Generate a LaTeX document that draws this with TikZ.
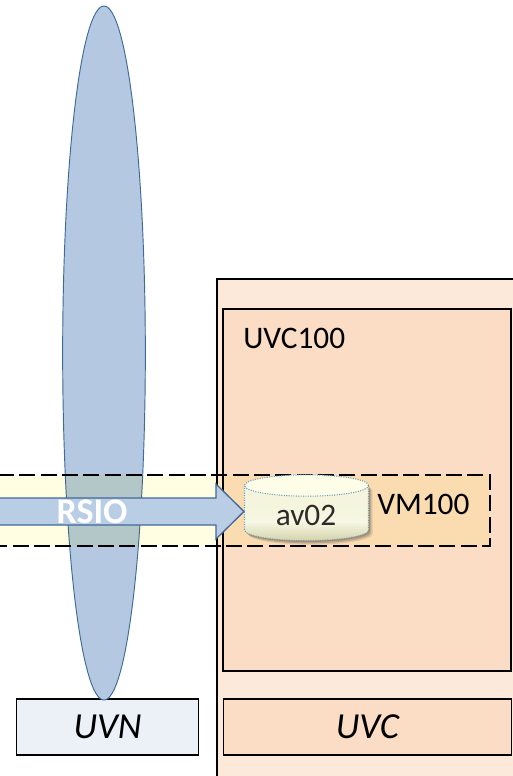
\documentclass[tikz,border=0pt]{standalone}
\usepackage{fontspec}
\setmainfont{Carlito}
\usetikzlibrary{shapes.geometric, shadows, positioning, calc}
\definecolor{uvcouter}{HTML}{FDE9D9}
\definecolor{uvcinner}{HTML}{FBDDC6}
\definecolor{uvnfill}{HTML}{ECF1F8}
\definecolor{netblue}{HTML}{B4C8E1}
\definecolor{netline}{HTML}{3D6A99}
\definecolor{arrowblue}{HTML}{B9CDE5}
\definecolor{arrowline}{HTML}{41699A}
\definecolor{bandfill}{HTML}{FFFEE3}
\definecolor{diskline}{HTML}{6C9CC4}
\definecolor{disktop}{HTML}{FEFEE8}
\definecolor{diskdark}{HTML}{D6D5AE}
\definecolor{disklight}{HTML}{F6F7E4}
\definecolor{diskmid}{HTML}{F4F5DC}
\pgfdeclareverticalshading{diskshade}{100bp}{color(0bp)=(diskdark); color(26bp)=(diskdark); color(42bp)=(disklight); color(60bp)=(diskmid); color(75bp)=(diskmid); color(100bp)=(diskmid)}

\begin{document}
\begin{tikzpicture}[
        x=0.75pt, y=-0.75pt,
        font=\fontsize{23.5}{28}\selectfont,
        % Box styles
        domainbox/.style={rectangle, draw=black, line width=1.1pt, inner sep=0pt},
        tagbox/.style={domainbox, minimum width=136.5pt, minimum height=42pt, font=\fontsize{27.5}{32}\selectfont\itshape},
        nametext/.style={inner sep=0pt, anchor=west},
        network/.style={ellipse, draw=netline, line width=0.7pt, fill=netblue, minimum width=62pt, minimum height=520.5pt, inner sep=0pt},
        vmband/.style={rectangle, draw=black, line width=1.2pt, dash pattern=on 12pt off 4pt, fill=bandfill, blend mode=multiply, minimum width=390pt, minimum height=53pt, inner sep=0pt},
        flowarrow/.style={draw=arrowline, line width=1pt, fill=arrowblue},
        diskbody/.style={draw=diskline, line width=0.8pt, densely dotted, shading=diskshade,
            general shadow={shadow xshift=1pt, shadow yshift=-1pt, opacity=0.15, fill=black},
            general shadow={shadow xshift=2pt, shadow yshift=-2pt, opacity=0.15, fill=black},
            general shadow={shadow xshift=3pt, shadow yshift=-3pt, opacity=0.1, fill=black}},
        diskcap/.style={ellipse, draw=diskline, line width=0.8pt, densely dotted, fill=disktop, minimum width=93pt, minimum height=16pt, inner sep=0pt}
    ]
    \useasboundingbox (0,0) rectangle (513,776);

    % --- 1. DOMAIN BOXES ---
    \path[fill=uvcouter, draw=black, line width=1.1pt] (217,279) rectangle (540,800);
    \node[domainbox, fill=uvcinner, minimum width=216pt, minimum height=271.5pt] (uvc100) at (367,490) {};
    \node[tagbox, fill=uvnfill] (uvn) at (107.5,727) {\raisebox{-1pt}{UVN}};
    \node[tagbox, fill=uvcinner, minimum width=216pt] (uvc) at (367.5,727) {\raisebox{-1pt}{UVC}};
    \node[nametext] (uvc100label) at (243,338) {UVC100};

    % --- 2. NETWORK AND VM BAND ---
    \node[network] (rsionet) at (104,353) {};
    \node[vmband] (vm100) at (230,510.5) {};
    \node[nametext] (vm100label) at (377,504) {VM100};

    % --- 3. DISK ---
    \coordinate (av02c) at (306.5,485.5);
    \path[diskbody] ($(av02c)+(-62,0)$) -- ++(0,44.5) arc[start angle=180, end angle=360, x radius=46.5pt, y radius=8pt] -- ++(0,-44.5) -- cycle;
    \node[diskcap] (av02) at (av02c) {};
    \node[text=black!90!olive] (av02label) at (306,515) {av02};

    % --- 4. RSIO ARROW ---
    \coordinate (rsiotail) at (-20,511.5);
    \draw[flowarrow] (av02.west |- rsiotail) -- ++(-28,-27.5) -- ++(0,14) -| ($(rsiotail)+(0,-13.5)$) -- ++(0,27) -| ($(av02.west |- rsiotail)+(-28,13.5)$) -- ++(0,14) -- cycle;
    \node[text=white, font=\fontsize{27}{32}\selectfont\bfseries] (rsio) at (92,512) {RSIO};
\end{tikzpicture}
\end{document}
